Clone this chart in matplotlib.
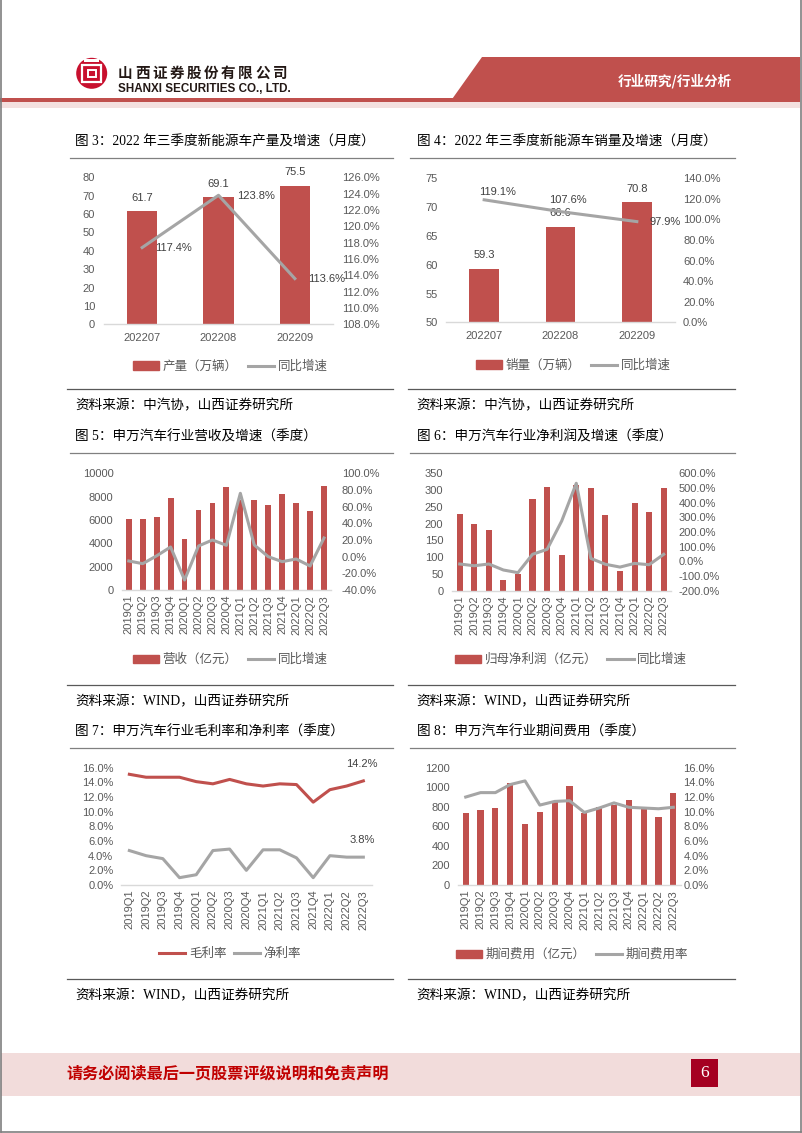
import matplotlib
matplotlib.use("Agg")
import matplotlib.pyplot as plt
from matplotlib.patches import Polygon, Rectangle, Circle, Patch
from matplotlib.lines import Line2D
from matplotlib.ticker import FuncFormatter, MultipleLocator

plt.rcParams['font.family'] = ['Liberation Sans', 'Noto Sans CJK SC']

# 数据
months = ['202207', '202208', '202209']
prod_vol = [61.7, 69.1, 75.5]
prod_yoy = [117.4, 123.8, 113.6]
sales_vol = [59.3, 66.6, 70.8]
sales_yoy = [119.1, 107.6, 97.9]

quarters = ['2019Q1', '2019Q2', '2019Q3', '2019Q4', '2020Q1', '2020Q2', '2020Q3', '2020Q4',
            '2021Q1', '2021Q2', '2021Q3', '2021Q4', '2022Q1', '2022Q2', '2022Q3']
revenue = [6100, 6100, 6250, 7850, 4400, 6830, 7460, 8800, 7750, 7700, 7300, 8230, 7450, 6800, 8900]
revenue_yoy = [-5.2, -8.4, 1.0, 11.6, -28.0, 12.8, 20.0, 13.6, 76.0, 14.0, 0.0, -6.0, -2.8, -11.2, 22.4]
profit = [230, 198, 181, 31, 51, 273, 308, 107, 315, 307, 225, 59, 262, 234, 307]
profit_yoy = [-18, -30, -18, -59, -77, 48, 82, 275, 532, 20, -20, -39, -14, -23, 48]
gross_margin = [15.1, 14.7, 14.7, 14.7, 14.1, 13.8, 14.4, 13.8, 13.5, 13.8, 13.7, 11.3, 13.0, 13.5, 14.2]
net_margin = [4.7, 4.0, 3.6, 1.0, 1.4, 4.7, 4.9, 2.0, 4.8, 4.8, 3.7, 1.0, 4.0, 3.8, 3.8]
expense = [733, 764, 784, 1047, 624, 743, 845, 1013, 740, 801, 818, 869, 784, 696, 941]
expense_rate = [12.0, 12.6, 12.6, 13.7, 14.2, 10.9, 11.4, 11.5, 9.9, 10.5, 11.2, 10.6, 10.5, 10.4, 10.6]

titles = ['图 3：2022 年三季度新能源车产量及增速（月度）',
          '图 4：2022 年三季度新能源车销量及增速（月度）',
          '图 5：申万汽车行业营收及增速（季度）',
          '图 6：申万汽车行业净利润及增速（季度）',
          '图 7：申万汽车行业毛利率和净利率（季度）',
          '图 8：申万汽车行业期间费用（季度）']
sources = ['资料来源：中汽协，山西证券研究所', '资料来源：中汽协，山西证券研究所',
           '资料来源：WIND，山西证券研究所', '资料来源：WIND，山西证券研究所',
           '资料来源：WIND，山西证券研究所', '资料来源：WIND，山西证券研究所']

RED = '#C0504D'
GRAY = '#A5A5A5'
TICK = '#595959'
LBL = '#404040'
FS = 8
W, H = 802, 1133

fig = plt.figure(figsize=(8.02, 11.33), dpi=100)


def px_axes(x0, y0, x1, y1):
    return fig.add_axes([x0 / W, 1 - y1 / H, (x1 - x0) / W, (y1 - y0) / H])


# page background layer (pixel coordinates)
bg = px_axes(0, 0, W, H)
bg.set_xlim(0, W)
bg.set_ylim(H, 0)
bg.axis('off')

# header
bg.add_patch(Rectangle((0, 97.5), 470, 4, color=RED, lw=0))
bg.add_patch(Polygon([(482, 57), (800, 57), (800, 101.5), (450, 101.5)], closed=True, color=RED, lw=0))
bg.add_patch(Rectangle((0, 102), 800, 6, color='#F4E0DF', lw=0))
bg.text(675, 81, '行业研究/行业分析', color='white', fontsize=9.8, ha='center', va='center',
        family='Noto Sans CJK SC', weight='bold')
bg.add_patch(Circle((91.7, 73.3), 15.5, color='#C8102E', lw=0))
bg.add_patch(Rectangle((82, 64.5), 19.4, 17.5, fill=False, ec='white', lw=1.6))
bg.add_patch(Rectangle((87.5, 69.5), 8.4, 7.5, fill=False, ec='white', lw=1.4))
bg.add_patch(Rectangle((84, 58.5), 15.4, 3, color='white', lw=0))
for i, ch in enumerate('山西证券股份有限公司'):
    bg.text(125 + 17.2 * i, 72.7, ch, fontsize=10.5, weight='bold', ha='center', va='center',
            family='Noto Sans CJK SC', color='#231815')
bg.text(118, 88.5, 'SHANXI SECURITIES CO., LTD.', fontsize=8.4, weight='bold', va='center',
        color='#231815')

# footer
bg.add_patch(Rectangle((1, 1053), 799, 43, color='#F2DCDB', lw=0))
bg.text(66.5, 1074, '请务必阅读最后一页股票评级说明和免责声明', color='#C00000', fontsize=11.6,
        weight='bold', va='center', family='Noto Sans CJK SC')
bg.add_patch(Rectangle((691, 1059), 27, 28, color='#A50021', lw=0))
bg.text(704.5, 1073, '6', color='white', fontsize=12.5, ha='center', va='center', family='Liberation Serif')

# page border
for xs, ys in [([0.5, 0.5], [0, 1131.5]), ([800.5, 800.5], [0, 1131.5]), ([0.5, 800.5], [1131.5, 1131.5])]:
    bg.plot(xs, ys, color='#7F7F7F', lw=1.2, clip_on=False)

# titles, separators and sources
rows = [(141.7, 158.3, 389.3, 406.0), (437.3, 453.3, 684.5, 701.5), (731.7, 748.3, 979.0, 996.0)]
cols = [(75, 70, 393, 67), (416.7, 410, 735, 408)]
k = 0
for ty, sy, by, ry in rows:
    for tx, lx0, lx1, bx0 in cols:
        bg.text(tx, ty, titles[k], fontsize=9.8, va='center', weight='medium',
                family=['Liberation Serif', 'Noto Sans CJK SC'], color='black')
        bg.plot([lx0, lx1], [sy, sy], color='#808080', lw=0.9)
        bg.plot([bx0, lx1], [by, by], color='#595959', lw=0.9)
        bg.text(tx, ry, sources[k], fontsize=9.8, va='center', weight='medium',
                family=['Liberation Serif', 'Noto Sans CJK SC'], color='black')
        k += 1

pct = FuncFormatter(lambda v, _: f'{v:.1f}%')


def chart_axes(box, n, lpad, xpad):
    ax = px_axes(*box)
    ax.set_xlim(-0.5, n - 0.5)
    ax.set_facecolor('none')
    for s in ('top', 'right', 'left'):
        ax.spines[s].set_visible(False)
    ax.spines['bottom'].set_color('#D9D9D9')
    ax.spines['bottom'].set_linewidth(1)
    ax.tick_params(axis='both', length=0, labelsize=FS, labelcolor=TICK)
    ax.tick_params(axis='y', pad=lpad)
    ax.tick_params(axis='x', pad=xpad)
    return ax


def right_axes(ax, rpad):
    a2 = ax.twinx()
    for s in a2.spines.values():
        s.set_visible(False)
    a2.tick_params(length=0, labelsize=FS, labelcolor=TICK, pad=rpad)
    a2.yaxis.set_major_formatter(pct)
    return a2


def legend_at(cx, cy, handles, labels, colsp):
    fig.legend(handles, labels, loc='center', bbox_to_anchor=(cx / W, 1 - cy / H), ncol=2,
               frameon=False, fontsize=9, handlelength=2.1, handleheight=0.65,
               handletextpad=0.3, columnspacing=colsp, labelcolor=TICK)


bar_h = lambda: Patch(color=RED)
line_h = lambda c: Line2D([], [], color=c, lw=2.2)

# 图3
ax = chart_axes((104, 177.3, 333, 324.3), 3, 6.5, 6.5)
ax.bar(range(3), prod_vol, width=0.4, color=RED)
ax.set_ylim(0, 80)
ax.yaxis.set_major_locator(MultipleLocator(10))
ax.set_xticks(range(3), months)
for i, v in enumerate(prod_vol):
    ax.annotate(f'{v:.1f}', (i, v), xytext=(0, 6), textcoords='offset points',
                ha='center', va='bottom', fontsize=FS, color=LBL)
a2 = right_axes(ax, 6.3)
a2.plot(range(3), prod_yoy, color=GRAY, lw=2.2)
a2.set_ylim(108, 126)
a2.yaxis.set_major_locator(MultipleLocator(2))
for (i, v), dx in zip(enumerate(prod_yoy), [9.4, 13.5, 9.2]):
    a2.annotate(f'{v:.1f}%', (i, v), xytext=(dx, -0.5), textcoords='offset points',
                ha='left', va='center', fontsize=FS, color=LBL)
legend_at(230, 366.7, [bar_h(), line_h(GRAY)], ['产量（万辆）', '同比增速'], 0.8)

# 图4
ax = chart_axes((446, 178.3, 675, 322.3), 3, 5.8, 6.5)
ax.bar(range(3), sales_vol, width=0.39, color=RED)
ax.set_ylim(50, 75)
ax.yaxis.set_major_locator(MultipleLocator(5))
ax.set_xticks(range(3), months)
for i, v in enumerate(sales_vol):
    ax.annotate(f'{v:.1f}', (i, v), xytext=(0, 6), textcoords='offset points',
                ha='center', va='bottom', fontsize=FS, color=LBL)
a2 = right_axes(ax, 5.8)
a2.plot(range(3), sales_yoy, color=GRAY, lw=2.2)
a2.set_ylim(0, 140)
a2.yaxis.set_major_locator(MultipleLocator(20))
for (i, v), (dx, dy, ha) in zip(enumerate(sales_yoy), [(9.7, 5.8, 'center'), (5.5, 8.4, 'center'), (8.9, 0, 'left')]):
    a2.annotate(f'{v:.1f}%', (i, v), xytext=(dx, dy), textcoords='offset points',
                ha=ha, va='center', fontsize=FS, color=LBL)
legend_at(573, 365.7, [bar_h(), line_h(GRAY)], ['销量（万辆）', '同比增速'], 0.8)

# 图5
n = len(quarters)
ax = chart_axes((121.8, 473.3, 331, 590), n, 6, 3.5)
ax.bar(range(n), revenue, width=0.42, color=RED)
ax.set_ylim(0, 10000)
ax.yaxis.set_major_locator(MultipleLocator(2000))
ax.set_xticks(range(n), quarters, rotation=90)
a2 = right_axes(ax, 7.7)
a2.plot(range(n), revenue_yoy, color=GRAY, lw=2.2)
a2.set_ylim(-40, 100)
a2.yaxis.set_major_locator(MultipleLocator(20))
legend_at(230, 660, [bar_h(), line_h(GRAY)], ['营收（亿元）', '同比增速'], 0.8)

# 图6
ax = chart_axes((452.4, 473.3, 671, 590.7), n, 6.5, 3.5)
ax.bar(range(n), profit, width=0.42, color=RED)
ax.set_ylim(0, 350)
ax.yaxis.set_major_locator(MultipleLocator(50))
ax.set_xticks(range(n), quarters, rotation=90)
a2 = right_axes(ax, 5.3)
a2.plot(range(n), profit_yoy, color=GRAY, lw=2.2)
a2.set_ylim(-200, 600)
a2.yaxis.set_major_locator(MultipleLocator(100))
legend_at(571, 660, [bar_h(), line_h(GRAY)], ['归母净利润（亿元）', '同比增速'], 0.8)

# 图7
ax = chart_axes((121, 767.7, 371.7, 885), n, 5.5, 3.5)
ax.plot(range(n), gross_margin, color=RED, lw=2.2)
ax.plot(range(n), net_margin, color=GRAY, lw=2.2)
ax.set_ylim(0, 16)
ax.yaxis.set_major_locator(MultipleLocator(2))
ax.yaxis.set_major_formatter(pct)
ax.set_xticks(range(n), quarters, rotation=90)
for s in (gross_margin, net_margin):
    ax.annotate(f'{s[-1]:.1f}%', (n - 1, s[-1]), xytext=(-1, 12), textcoords='offset points',
                ha='center', va='center', fontsize=FS, color=LBL)
legend_at(230, 954, [line_h(RED), line_h(GRAY)], ['毛利率', '净利率'], 0.6)

# 图8
ax = chart_axes((458.3, 767.7, 680.7, 885), n, 6, 3.5)
ax.bar(range(n), expense, width=0.42, color=RED)
ax.set_ylim(0, 1200)
ax.yaxis.set_major_locator(MultipleLocator(200))
ax.set_xticks(range(n), quarters, rotation=90)
a2 = right_axes(ax, 2)
a2.plot(range(n), expense_rate, color=GRAY, lw=2.2)
a2.set_ylim(0, 16)
a2.yaxis.set_major_locator(MultipleLocator(2))
legend_at(572, 955, [bar_h(), line_h(GRAY)], ['期间费用（亿元）', '期间费用率'], 0.8)

fig.savefig('out.png', dpi=100)
